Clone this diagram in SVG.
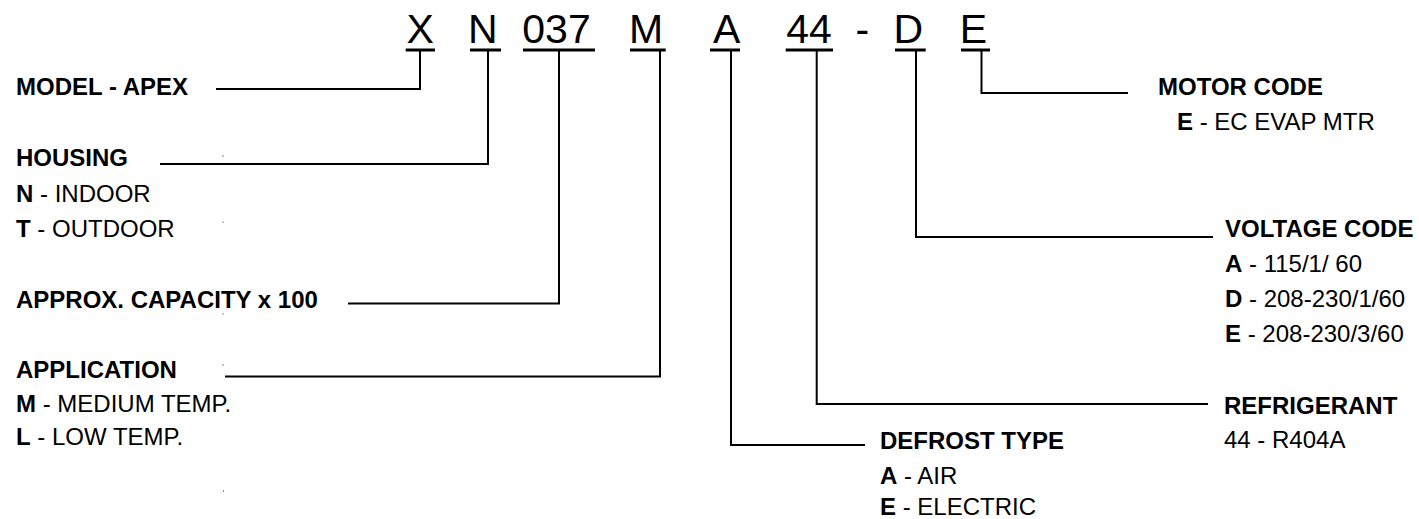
<svg xmlns="http://www.w3.org/2000/svg" width="1419" height="519" viewBox="0 0 1419 519">
<style>
text{font-family:"Liberation Sans",Arial,sans-serif;fill:#000}
.code{font-size:41px}
.lbl{font-size:24px}
.b{font-weight:bold}
.conn{fill:none;stroke:#000;stroke-width:2}
.ul{fill:#000}
.dot{fill:#888}
</style>
<rect width="1419" height="519" fill="#fff"/>
<g id="code">
<g id="code-X"><text class="code" x="406.5" y="43">X</text><rect class="ul" x="405.7" y="48.5" width="29.3" height="3"/></g>
<g id="code-N"><text class="code" x="468" y="43">N</text><rect class="ul" x="470" y="48.5" width="31" height="3"/></g>
<g id="code-037"><text class="code" x="522.3" y="43">037</text><rect class="ul" x="523" y="48.5" width="72" height="3"/></g>
<g id="code-M"><text class="code" x="629" y="43">M</text><rect class="ul" x="630" y="48.5" width="35.7" height="3"/></g>
<g id="code-A"><text class="code" x="713" y="43">A</text><rect class="ul" x="710" y="48.5" width="30" height="3"/></g>
<g id="code-44"><text class="code" x="786.3" y="43">44</text><rect class="ul" x="785.7" y="48.5" width="47.3" height="3"/></g>
<g id="code-dash"><text class="code" x="855.5" y="43">-</text></g>
<g id="code-D"><text class="code" x="893.4" y="43">D</text><rect class="ul" x="895" y="48.5" width="30.7" height="3"/></g>
<g id="code-E"><text class="code" x="959.7" y="43">E</text><rect class="ul" x="961" y="48.5" width="29" height="3"/></g>
</g>
<g id="connectors">
<polyline class="conn" points="420,51 420,89 216,89"/>
<polyline class="conn" points="488,51 488,164 160,164"/>
<polyline class="conn" points="559,51 559,303.5 348,303.5"/>
<polyline class="conn" points="660,51 660,376.5 225,376.5"/>
<polyline class="conn" points="731,51 731,445 865,445"/>
<polyline class="conn" points="816.7,51 816.7,404 1208,404"/>
<polyline class="conn" points="916,51 916,237 1213,237"/>
<polyline class="conn" points="981.5,51 981.5,93 1128,93"/>
</g>
<g id="model">
<text class="lbl b" x="16" y="95">MODEL - APEX</text>
</g>
<g id="housing">
<text class="lbl b" x="16" y="166">HOUSING</text>
<text class="lbl" x="16" y="201.5"><tspan class="b">N</tspan> - INDOOR</text>
<text class="lbl" x="16" y="236.5"><tspan class="b">T</tspan> - OUTDOOR</text>
</g>
<g id="capacity">
<text class="lbl b" x="16" y="308">APPROX. CAPACITY x 100</text>
</g>
<g id="application">
<text class="lbl b" x="16" y="378">APPLICATION</text>
<text class="lbl" x="16" y="411.5"><tspan class="b">M</tspan> - MEDIUM TEMP.</text>
<text class="lbl" x="16" y="445"><tspan class="b">L</tspan> - LOW TEMP.</text>
</g>
<g id="defrost">
<text class="lbl b" x="880" y="449">DEFROST TYPE</text>
<text class="lbl" x="880" y="483.5"><tspan class="b">A</tspan> - AIR</text>
<text class="lbl" x="880" y="515"><tspan class="b">E</tspan> - ELECTRIC</text>
</g>
<g id="refrigerant">
<text class="lbl b" x="1224" y="414">REFRIGERANT</text>
<text class="lbl" x="1224" y="448">44 - R404A</text>
</g>
<g id="voltage">
<text class="lbl b" x="1225" y="237">VOLTAGE CODE</text>
<text class="lbl" x="1225" y="272"><tspan class="b">A</tspan> - 115/1/ 60</text>
<text class="lbl" x="1225" y="307"><tspan class="b">D</tspan> - 208-230/1/60</text>
<text class="lbl" x="1225" y="342"><tspan class="b">E</tspan> - 208-230/3/60</text>
</g>
<g id="motor">
<text class="lbl b" x="1158" y="95">MOTOR CODE</text>
<text class="lbl" x="1177" y="130"><tspan class="b">E</tspan> - EC EVAP MTR</text>
</g>
<g id="specks">
<rect class="dot" x="222.5" y="155" width="1" height="2"/>
<rect class="dot" x="222.5" y="221" width="1" height="2"/>
<rect class="dot" x="222.5" y="313" width="1" height="2"/>
<rect class="dot" x="222.5" y="364" width="1" height="2"/>
<rect class="dot" x="223" y="490" width="1" height="2"/>
</g>
</svg>
